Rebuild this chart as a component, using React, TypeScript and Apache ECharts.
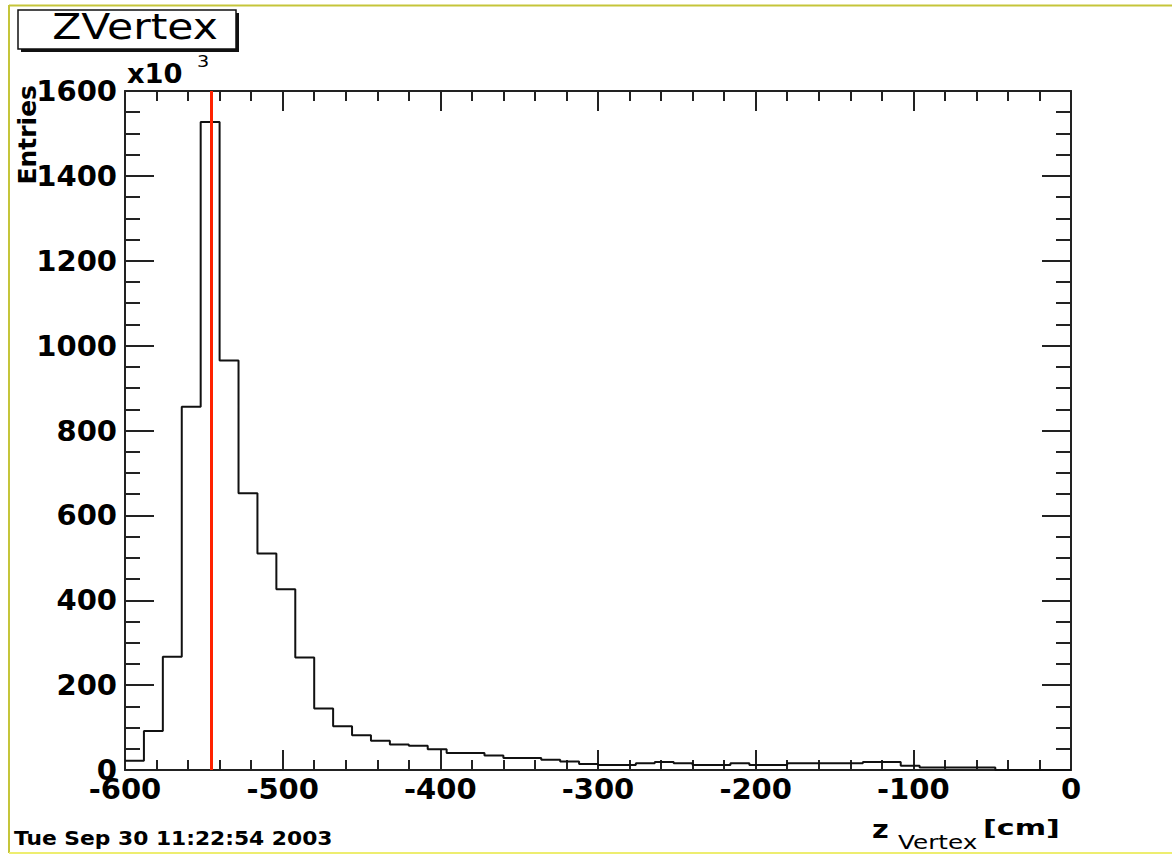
import React, { useEffect, useRef } from "react";
import * as echarts from "echarts";

// Histogram: 50 bins of 12 cm from -600 to 0 (entries in units of 10^3)
const binLow = -600;
const binWidth = 12;
const counts = [
  22, 92, 267, 856, 1527, 965, 652, 510, 426, 265,
  145, 103, 82, 69, 60, 57, 49, 40, 40, 34,
  28, 28, 24, 20, 14, 12, 12, 16, 19, 16,
  12, 12, 16, 12, 12, 16, 16, 16, 16, 19,
  19, 10, 6, 6, 6, 6, 0, 0, 0, 0,
];
const xMin = -600;
const xMax = 0;
const xInterval = 100;
const yMin = 0;
const yMax = 1600;
const yInterval = 200;
const markerZ = -545;
const titleText = "ZVertex";
const yTitle = "Entries";
const dateText = "Tue Sep 30 11:22:54 2003";

const FONT = '"DejaVu Sans"';

export default function App() {
  const ref = useRef<HTMLDivElement>(null);

  useEffect(() => {
    if (!ref.current) return;
    const chart = echarts.init(ref.current, undefined, { renderer: "svg" });

    const stepData: [number, number][] = counts.map((c, i) => [binLow + i * binWidth, c]);
    stepData.push([binLow + counts.length * binWidth, counts[counts.length - 1]]);

    const axisColor = "#222";
    const commonX = {
      type: "value" as const,
      min: xMin,
      max: xMax,
      interval: xInterval,
      axisLine: { onZero: false, lineStyle: { color: axisColor, width: 2 } },
      axisTick: { inside: true, length: 20, lineStyle: { color: axisColor, width: 2 } },
      minorTick: { show: true, splitNumber: 5, length: 10, lineStyle: { color: axisColor, width: 2 } },
      splitLine: { show: false },
    };
    const commonY = {
      type: "value" as const,
      min: yMin,
      max: yMax,
      interval: yInterval,
      axisLine: { onZero: false, lineStyle: { color: axisColor, width: 2 } },
      axisTick: { inside: true, length: 29, lineStyle: { color: axisColor, width: 2 } },
      minorTick: { show: true, splitNumber: 4, length: 15, lineStyle: { color: axisColor, width: 2 } },
      splitLine: { show: false },
    };

    const txt = (
      text: string,
      x: number,
      y: number,
      font: string,
      align: string,
      extra: Record<string, unknown> = {}
    ) => ({
      type: "text",
      x,
      y,
      z: 100,
      ...extra,
      style: {
        text,
        font,
        fill: "#000",
        align,
        textAlign: align,
        verticalAlign: "middle",
        textVerticalAlign: "middle",
      },
    });

    const plainNum = (v: number) => String(v);

    chart.setOption({
      animation: false,
      backgroundColor: "#fff",
      grid: { left: 125, right: 101, top: 91, bottom: 87, containLabel: false },
      xAxis: [
        {
          ...commonX,
          position: "bottom",
          axisLabel: {
            show: true,
            margin: 4,
            color: "#000",
            fontFamily: FONT,
            fontWeight: "bold",
            fontSize: 29,
            showMinLabel: true,
            showMaxLabel: true,
            formatter: plainNum,
          },
        },
        {
          ...commonX,
          position: "top",
          axisLabel: { show: false },
        },
      ],
      yAxis: [
        {
          ...commonY,
          position: "left",
          axisLabel: {
            show: true,
            margin: 8,
            color: "#000",
            fontFamily: FONT,
            fontWeight: "bold",
            fontSize: 29,
            showMinLabel: true,
            showMaxLabel: true,
            formatter: plainNum,
          },
        },
        {
          ...commonY,
          position: "right",
          axisLabel: { show: false },
        },
      ],
      series: [
        {
          type: "line",
          xAxisIndex: 0,
          yAxisIndex: 0,
          step: "end",
          data: stepData,
          showSymbol: false,
          symbol: "none",
          silent: true,
          lineStyle: { color: "#111", width: 2 },
          markLine: {
            silent: true,
            symbol: "none",
            label: { show: false },
            lineStyle: { color: "#ff2200", width: 3, type: "solid" },
            data: [{ xAxis: markerZ }],
          },
          z: 3,
        },
      ],
      graphic: [
        // title pave with shadow
        { type: "rect", z: 90, shape: { x: 21, y: 13, width: 218, height: 39 }, style: { fill: "#111" } },
        {
          type: "rect",
          z: 91,
          shape: { x: 18, y: 10, width: 218, height: 39 },
          style: { fill: "#fff", stroke: "#111", lineWidth: 1.5 },
        },
        txt(titleText, 135, 26, `36px ${FONT}`, "center", { scaleX: 1.18 }),
        // exponent
        txt("x10", 127, 74, `bold 26px ${FONT}`, "left", { scaleX: 1.05 }),
        txt("3", 197, 62, `16px ${FONT}`, "left", { scaleX: 1.2 }),
        // y title rotated
        txt(yTitle, 27, 85, `bold 25px ${FONT}`, "right", { rotation: Math.PI / 2 }),
        // x title
        txt("z", 872, 829, `bold 25px ${FONT}`, "left", { scaleX: 1.15 }),
        txt("Vertex", 898, 843, `19px ${FONT}`, "left", { scaleX: 1.3 }),
        txt("[cm]", 983, 827, `bold 22px ${FONT}`, "left", { scaleX: 1.37 }),
        // date
        txt(dateText, 14, 838, `bold 20px ${FONT}`, "left", { scaleX: 1.09 }),
        // page frame
        { type: "rect", z: 110, shape: { x: 0, y: 854, width: 1172, height: 4 }, style: { fill: "#fff" } },
        { type: "line", z: 111, shape: { x1: 9, y1: 5.5, x2: 1172, y2: 5.5 }, style: { stroke: "#c5c53a", lineWidth: 2 } },
        { type: "line", z: 111, shape: { x1: 9, y1: 5, x2: 9, y2: 853 }, style: { stroke: "#c5c53a", lineWidth: 2 } },
        { type: "line", z: 111, shape: { x1: 9, y1: 853, x2: 1172, y2: 853 }, style: { stroke: "#eeee70", lineWidth: 2 } },
      ],
    });

    return () => chart.dispose();
  }, []);

  return (
    <div
      ref={ref}
      style={{ position: "fixed", left: 0, top: 0, width: 1172, height: 857, background: "#fff" }}
    />
  );
}
